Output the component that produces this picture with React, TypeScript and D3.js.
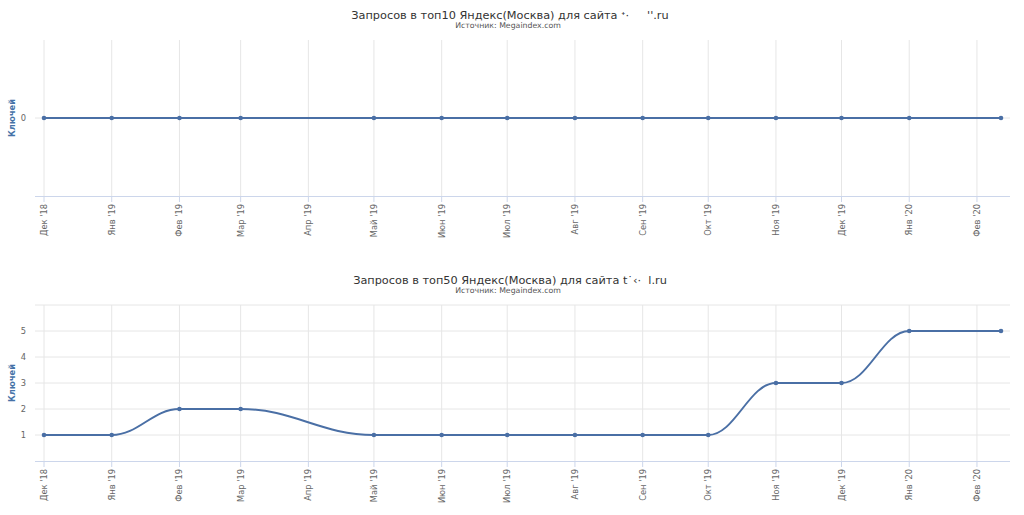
import React from "react";
import * as d3 from "d3";

const dates = [
  "2018-12-01", "2019-01-01", "2019-02-01", "2019-03-01", "2019-05-01",
  "2019-06-01", "2019-07-01", "2019-08-01", "2019-09-01", "2019-10-01",
  "2019-11-01", "2019-12-01", "2020-01-01", "2020-02-12",
];
const top10Values = [0, 0, 0, 0, 0, 0, 0, 0, 0, 0, 0, 0, 0, 0];
const top50Values = [1, 1, 2, 2, 1, 1, 1, 1, 1, 1, 3, 3, 5, 5];

const tickDates = [
  "2018-12-01", "2019-01-01", "2019-02-01", "2019-03-01", "2019-04-01",
  "2019-05-01", "2019-06-01", "2019-07-01", "2019-08-01", "2019-09-01",
  "2019-10-01", "2019-11-01", "2019-12-01", "2020-01-01", "2020-02-01",
];
const tickLabels = [
  "Дек '18", "Янв '19", "Фев '19", "Мар '19", "Апр '19", "Май '19", "Июн '19",
  "Июл '19", "Авг '19", "Сен '19", "Окт '19", "Ноя '19", "Дек '19", "Янв '20", "Фев '20",
];

const title1 = "Запросов в топ10 Яндекс(Москва) для сайта ᐩ·     ''.ru";
const title2 = "Запросов в топ50 Яндекс(Москва) для сайта t˙‹·  l.ru";
const subtitle = "Источник: Megaindex.com";
const yTitle = "Ключей";

const FONT = "'DejaVu Sans', Verdana, sans-serif";
const LINE = "#4a6fa5";

function splinePath(pts: [number, number][]): string {
  const p = d3.path();
  const rc: ({ x: number; y: number } | null)[] = pts.map(() => null);
  const smoothing = 1.5;
  const denom = smoothing + 1;
  pts.forEach(([x, y], i) => {
    if (i === 0) {
      p.moveTo(x, y);
      return;
    }
    const last = pts[i - 1];
    const next = pts[i + 1];
    let lcx = x, lcy = y;
    if (next) {
      const [lx, ly] = last;
      const [nx, ny] = next;
      lcx = (smoothing * x + lx) / denom;
      lcy = (smoothing * y + ly) / denom;
      const rcx = (smoothing * x + nx) / denom;
      let rcy = (smoothing * y + ny) / denom;
      let corr = 0;
      if (rcx !== lcx) corr = ((rcy - lcy) * (rcx - x)) / (rcx - lcx) + y - rcy;
      lcy += corr;
      rcy += corr;
      if (lcy > ly && lcy > y) { lcy = Math.max(ly, y); rcy = 2 * y - lcy; }
      else if (lcy < ly && lcy < y) { lcy = Math.min(ly, y); rcy = 2 * y - lcy; }
      if (rcy > ny && rcy > y) { rcy = Math.max(ny, y); lcy = 2 * y - rcy; }
      else if (rcy < ny && rcy < y) { rcy = Math.min(ny, y); lcy = 2 * y - rcy; }
      rc[i] = { x: rcx, y: rcy };
    }
    const prc = rc[i - 1] || { x: last[0], y: last[1] };
    p.bezierCurveTo(prc.x, prc.y, lcx, lcy, x, y);
  });
  return p.toString();
}

type ChartProps = {
  top: number;
  title: string;
  values: number[];
  yDomain: [number, number];
  gridValues: number[];
  labelValues: number[];
};

function Chart({ top, title, values, yDomain, gridValues, labelValues }: ChartProps) {
  const plotLeft = 35;
  const plotRight = 1010;
  const plotTop = top + 40;
  const plotBottom = top + 196;
  const x = d3
    .scaleUtc()
    .domain([new Date(dates[0]), new Date(dates[dates.length - 1])])
    .range([44, 1001]);
  const y = d3.scaleLinear().domain(yDomain).range([plotBottom, plotTop]);
  const pts: [number, number][] = dates.map((d, i) => [x(new Date(d)), y(values[i])]);
  return (
    <g>
      <text
        x={510}
        y={top + 19}
        textAnchor="middle"
        fontFamily={FONT}
        fontSize={11.3}
        fill="#333"
        style={{ whiteSpace: "pre" }}
      >
        {title}
      </text>
      <text x={508} y={top + 28} textAnchor="middle" fontFamily={FONT} fontSize={7.8} fill="#555">
        {subtitle}
      </text>
      {gridValues.map((v) => (
        <line key={"hg" + v} x1={plotLeft} x2={plotRight} y1={y(v)} y2={y(v)} stroke="#e6e6e6" strokeWidth={1} />
      ))}
      {tickDates.map((d) => (
        <line key={"vg" + d} x1={x(new Date(d))} x2={x(new Date(d))} y1={plotTop} y2={plotBottom} stroke="#e6e6e6" strokeWidth={1} />
      ))}
      <line x1={plotLeft} x2={plotRight} y1={plotBottom + 0.5} y2={plotBottom + 0.5} stroke="#ccd6eb" strokeWidth={1} />
      {tickDates.map((d, i) => {
        const tx = x(new Date(d));
        return (
          <g key={"xt" + d}>
            <line x1={tx} x2={tx} y1={plotBottom} y2={plotBottom + 6} stroke="#ccd6eb" strokeWidth={1} />
            <text
              transform={`translate(${tx + 3},${plotBottom + 8}) rotate(-90)`}
              textAnchor="end"
              fontFamily={FONT}
              fontSize={8.3}
              fill="#666"
            >
              {tickLabels[i]}
            </text>
          </g>
        );
      })}
      {labelValues.map((v) => (
        <text key={"yl" + v} x={26} y={y(v) + 3} textAnchor="end" fontFamily={FONT} fontSize={8.3} fill="#666">
          {v}
        </text>
      ))}
      <text
        transform={`translate(${15},${(plotTop + plotBottom) / 2}) rotate(-90)`}
        textAnchor="middle"
        fontFamily={FONT}
        fontSize={8.3}
        fontWeight="bold"
        fill="#4572a7"
      >
        {yTitle}
      </text>
      <path d={splinePath(pts)} fill="none" stroke={LINE} strokeWidth={2} strokeLinejoin="round" strokeLinecap="round" />
      {pts.map(([px, py], i) => (
        <circle key={"m" + i} cx={px} cy={py} r={2.3} fill={LINE} />
      ))}
    </g>
  );
}

export default function App() {
  return (
    <svg
      width={1024}
      height={515}
      style={{ position: "absolute", left: 0, top: 0, background: "#fff" }}
    >
      <rect width={1024} height={515} fill="#fff" />
      <Chart top={0} title={title1} values={top10Values} yDomain={[-1, 1]} gridValues={[0]} labelValues={[0]} />
      <Chart
        top={265}
        title={title2}
        values={top50Values}
        yDomain={[0, 6]}
        gridValues={[1, 2, 3, 4, 5, 6]}
        labelValues={[1, 2, 3, 4, 5]}
      />
    </svg>
  );
}
